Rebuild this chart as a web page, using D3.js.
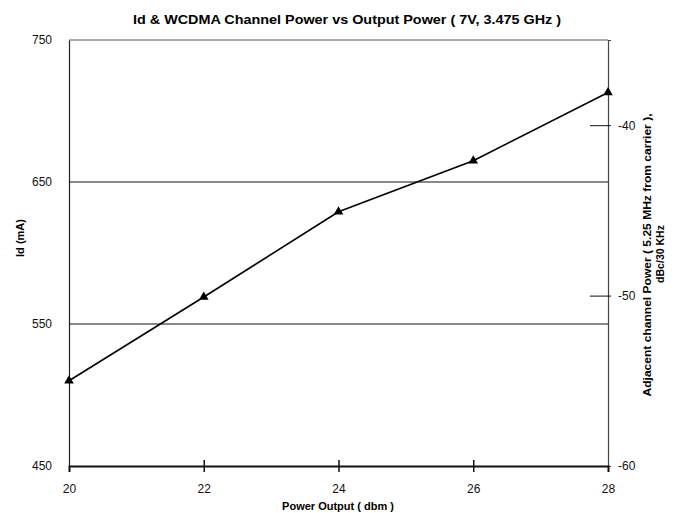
<!DOCTYPE html>
<html>
<head>
<meta charset="utf-8">
<script src="https://cdn.jsdelivr.net/npm/d3@7"></script>
<style>
  html, body { margin: 0; padding: 0; background: #fff; }
  svg { display: block; font-family: "Liberation Sans", Arial, sans-serif; }
</style>
</head>
<body>
<svg id="chart" width="682" height="513"></svg>
<script>
// ---- data ----
const powerOutput = [20, 22, 24, 26, 28];
const idCurrent = [510, 569, 629, 665, 713];
const xTicks = [20, 22, 24, 26, 28];
const leftTicks = [450, 550, 650, 750];
const rightTicks = [-60, -50, -40];
const gridValues = [550, 650];
const titleText = "Id & WCDMA Channel Power vs Output Power ( 7V, 3.475 GHz )";
const xTitle = "Power Output ( dbm )";
const yLeftTitle = "Id (mA)";
const yRightTitle = ["Adjacent channel Power ( 5.25 MHz from carrier ),", "dBc/30 KHz"];

const svg = d3.select("#chart");
const L = 69, R = 608, T = 40, B = 466;
const fmt = d => String(d);

const x = d3.scaleLinear().domain([20, 28]).range([L, R]);
const yL = d3.scaleLinear().domain([450, 750]).range([B, T]);
const yR = d3.scaleLinear().domain([-60, -35]).range([B, T]);

// gridlines
svg.append("g").selectAll("line").data(gridValues).join("line")
  .attr("x1", L).attr("x2", R)
  .attr("y1", d => yL(d)).attr("y2", d => yL(d))
  .attr("stroke", "#111").attr("stroke-width", 1);

// frame: top (gray)
svg.append("line").attr("x1", L).attr("x2", R).attr("y1", T).attr("y2", T)
  .attr("stroke", "#555").attr("stroke-width", 1);

// left axis
const gL = svg.append("g").attr("transform", `translate(${L},0)`)
  .call(d3.axisLeft(yL).tickValues(leftTicks).tickSize(0).tickPadding(17).tickFormat(fmt));
gL.select(".domain").attr("stroke", "#222").attr("stroke-width", 1.2);
gL.selectAll("text").attr("font-size", 12).attr("fill", "#111")
  .attr("font-family", "'Liberation Sans', Arial, sans-serif");

// right axis
const gR = svg.append("g").attr("transform", `translate(${R},0)`)
  .call(d3.axisRight(yR).tickValues(rightTicks).tickSize(3).tickPadding(7).tickFormat(fmt));
gR.select(".domain").attr("stroke", "#444").attr("stroke-width", 1.2);
gR.selectAll(".tick line").attr("x1", -18).attr("x2", 3).attr("stroke", "#111")
  .attr("display", d => d === -60 ? "none" : null);
gR.selectAll("text").attr("font-size", 12).attr("fill", "#111")
  .attr("font-family", "'Liberation Sans', Arial, sans-serif");

// bottom axis
const gB = svg.append("g").attr("transform", `translate(0,${B})`)
  .call(d3.axisBottom(x).tickValues(xTicks).tickSize(6).tickPadding(12).tickFormat(fmt));
gB.select(".domain").attr("stroke", "#111").attr("stroke-width", 2);
gB.selectAll(".tick line").attr("y1", -6).attr("y2", 6).attr("stroke", "#111").attr("stroke-width", 1.5)
  .attr("display", d => (d === 20 || d === 28) ? "none" : null);
gB.selectAll("text").attr("font-size", 12).attr("fill", "#111")
  .attr("font-family", "'Liberation Sans', Arial, sans-serif");

// data line
const data = powerOutput.map((p, i) => ({ p, v: idCurrent[i] }));
svg.append("path").datum(data)
  .attr("fill", "none").attr("stroke", "#000").attr("stroke-width", 1.6)
  .attr("d", d3.line().x(d => x(d.p)).y(d => yL(d.v)));

// triangle markers
svg.append("g").selectAll("path").data(data).join("path")
  .attr("transform", d => `translate(${x(d.p)},${yL(d.v)})`)
  .attr("d", d3.symbol().type(d3.symbolTriangle).size(40))
  .attr("fill", "#000");

// title
svg.append("text").attr("x", 347).attr("y", 24).attr("text-anchor", "middle")
  .attr("font-size", 12.5).attr("font-weight", "bold").attr("fill", "#000")
  .attr("textLength", 428).attr("lengthAdjust", "spacingAndGlyphs")
  .text(titleText);

// x title
svg.append("text").attr("x", 338).attr("y", 510).attr("text-anchor", "middle")
  .attr("font-size", 11).attr("font-weight", "bold").attr("fill", "#000")
  .text(xTitle);

// left y title
svg.append("text").attr("transform", "translate(24,238) rotate(-90)")
  .attr("text-anchor", "middle")
  .attr("font-size", 11).attr("font-weight", "bold").attr("fill", "#000")
  .text(yLeftTitle);

// right y title (two lines)
svg.append("text").attr("transform", "translate(651,255) rotate(-90)")
  .attr("text-anchor", "middle")
  .attr("font-size", 10.5).attr("font-weight", "bold").attr("fill", "#000")
  .attr("textLength", 283).attr("lengthAdjust", "spacingAndGlyphs")
  .text(yRightTitle[0]);
svg.append("text").attr("transform", "translate(664,254) rotate(-90)")
  .attr("text-anchor", "middle")
  .attr("font-size", 10.5).attr("font-weight", "bold").attr("fill", "#000")
  .text(yRightTitle[1]);
</script>
</body>
</html>
